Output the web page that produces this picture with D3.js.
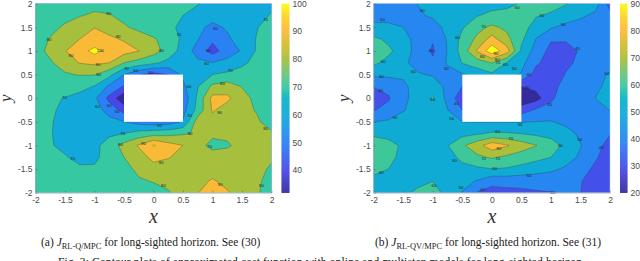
<!DOCTYPE html>
<html>
<head>
<meta charset="utf-8">
<script src="https://cdn.jsdelivr.net/npm/d3@7"></script>
<style>
  html, body { margin: 0; padding: 0; background: #fff; }
  svg { display: block; }
  .tick text, .cbar text { font-family: "Liberation Sans", sans-serif; font-size: 8.5px; fill: #4a4a4a; }
  .lab { font-family: "Liberation Sans", sans-serif; font-size: 4.4px; fill: #222; text-anchor: middle; dominant-baseline: central; }
  .math { font-family: "Liberation Serif", serif; font-style: italic; fill: #333; text-anchor: middle; }
  .cap { font-family: "Liberation Serif", serif; font-size: 11.5px; fill: #222; }
</style>
</head>
<body>
<div id="chart"></div>
<script>
// grid axes of both surfaces, top row is y = 2
var gridX = [-2, -1.75, -1.5, -1.25, -1, -0.75, -0.5, -0.25, 0, 0.25, 0.5, 0.75, 1, 1.25, 1.5, 1.75, 2];
var axisTicks = [-2, -1.5, -1, -0.5, 0, 0.5, 1, 1.5, 2];

// values
var valuesA = [
  74, 74, 75, 76, 77, 77, 76, 75, 74, 73, 71, 70.5, 68, 66, 66, 66, 68,
  75, 76, 78, 79.5, 81.5, 80.5, 78, 76, 74, 72, 70, 66, 63, 62, 63, 66, 71,
  76, 78, 81, 85, 89.8, 86, 81, 78, 75, 72, 68, 62, 58, 61, 65, 69.5, 74,
  76, 80.5, 86, 90, 93, 92, 89, 84, 81, 76, 68, 60.5, 52, 58.5, 64, 70.5, 74,
  77, 82, 89.5, 96, 103, 97, 94, 90.2, 84, 76, 66, 56, 46, 55, 61, 71, 74,
  76, 79, 84, 90.5, 92, 90, 80, 76, 72, 67, 65, 62, 60.3, 63, 68, 73, 75,
  74.5, 76, 79, 80.5, 80.5, 73, 60, 51, 46, 50, 62, 66, 70, 72, 74, 75, 76,
  74, 74.5, 75, 73, 69.5, 58, 49, 42, 40, 42, 58, 69.5, 82, 85, 79.5, 76, 75,
  73.5, 72, 69.5, 67, 62, 47, 32, 30, 30, 35, 53, 72, 93, 92, 84, 77, 74,
  73, 71, 68.5, 66.5, 64.5, 56, 46, 40, 38, 40, 56.5, 73.5, 91, 86, 82, 79.5, 75,
  72.5, 70.5, 68, 66.5, 65, 63, 60.3, 56, 54, 55, 61, 85, 87, 85, 83, 81, 77,
  72, 70.5, 67, 66, 67, 68, 70.2, 74, 76, 77, 79, 81, 82, 82.5, 83, 83, 81,
  72, 71, 67, 65, 67, 75, 83, 91, 101, 94, 90, 83.5, 77, 78.5, 84, 84, 82,
  73, 73, 71, 66.5, 67, 76, 80, 85, 93, 90.5, 87, 85, 85, 85, 84.5, 83, 81,
  74, 74, 73, 72, 72, 74, 77, 82, 86, 86, 85, 85, 86, 85, 84, 82, 79,
  74, 74, 74, 74, 74, 75, 77, 79, 80.5, 83, 85, 87, 91, 87, 84, 81.5, 77,
  74, 74, 74, 74, 74, 74, 75, 76, 77, 79, 84, 89.7, 94, 91, 86, 81, 76
];

// values
var valuesB = [
  44, 45, 46, 50.2, 52, 54, 55, 56, 57, 58.5, 60.5, 63, 62.5, 60.5, 57, 55, 36,
  46, 46, 47, 49, 51, 53, 55.5, 59.5, 62, 62, 62, 60.5, 59, 55.5, 52, 47.5, 43,
  53, 52.5, 50, 46, 47, 52, 59, 67, 72, 68, 63, 57, 51, 47, 45, 43, 41,
  62, 58, 53, 47, 41, 51, 63, 72, 84, 73, 62, 49.5, 41, 41, 41.5, 42, 42,
  68, 62, 55, 46, 38.5, 50.5, 64, 81, 96, 85, 58, 46, 37, 36.5, 41, 42, 42,
  62, 57, 52, 46, 42, 51, 60.5, 65, 70.3, 60, 53, 41.5, 36, 38, 42, 43, 44,
  52, 52, 51.5, 51, 49, 47, 49, 54, 58, 55, 49, 36, 34, 40.5, 44, 47, 51,
  40.5, 43, 48, 54, 56, 47, 40, 42, 42, 38, 30, 33, 37, 43, 46, 47, 54,
  33, 39, 47, 55, 61, 47, 33, 38, 40, 35, 22, 26, 38, 46, 47, 50, 54,
  39.5, 43, 49.5, 53, 54, 50.3, 39.8, 40, 42, 40, 35, 41.5, 44, 46, 47, 47.5, 50.2,
  49.8, 51.5, 53, 54, 54, 52, 50, 49.7, 49.7, 49.7, 49.5, 50.2, 50.5, 47.5, 46, 46, 45.5,
  58, 57, 56, 55, 55, 55, 57, 59, 61.5, 61, 60, 58, 57, 54, 48, 44, 40.5,
  66, 63, 58.5, 53, 52, 59.5, 68.5, 76, 86, 81, 75, 70.3, 64, 58, 50.5, 44, 36,
  66, 62, 58, 54, 52, 56, 62.5, 68, 71, 68, 65, 63, 60, 54, 48.5, 41, 36,
  63, 60, 56, 53, 51, 52, 57, 58, 59.8, 59, 57, 54, 52, 48.5, 43, 38.5, 35,
  57, 55, 54, 56, 59.8, 56, 53, 49.5, 43.5, 44, 43.5, 44, 43.5, 41.5, 40.5, 36, 32,
  52, 53, 57, 63, 64, 57, 49.5, 39.5, 36, 37, 38, 39, 39.7, 40.5, 40.2, 35, 30
];

var levelsA = [40, 50, 60, 70, 80, 90, 100];
var levelsB = [30, 40, 50, 60, 70, 80, 90];
var barTicksA = [40, 50, 60, 70, 80, 90, 100];
var barTicksB = [20, 30, 40, 50, 60, 70, 80, 90];

// contour labels as x, y, text
var labelsA = [
  [-0.76, 1.8, "80"], [-1.77, 1.25, "80"], [-0.6, 1.3, "90"], [-1.4, 0.9, "90"], [-0.94, 0.71, "90"],
  [-0.93, 0.5, "80"], [0.13, 1.02, "80"], [-0.9, 1, "100"], [0.43, 1.35, "70"], [1.05, 1.48, "60"],
  [0.93, 1, "50"], [0.9, 0.74, "60"], [1.3, 0.58, "70"], [1.9, 1.67, "70"], [-1.51, 0.02, "70"],
  [-0.95, -0.17, "60"], [-0.75, -0.16, "60"], [-0.62, -0.28, "50"], [-0.46, 0.62, "70"], [-0.3, 0.58, "60"],
  [-0.05, 0.55, "50"], [0.6, 0.24, "60"], [0.61, -0.37, "70"], [0.1, -0.57, "50"], [-0.52, -0.74, "70"],
  [0.62, -0.74, "80"], [-0.56, -0.97, "80"], [-0.17, -0.95, "90"], [0.13, -1.37, "90"], [1.13, -1.83, "90"],
  [1.12, -0.3, "90"], [1.17, 0.32, "80"], [1.9, -0.65, "80"], [0.95, -1.02, "70"], [-1.37, -1.27, "70"],
  [0.17, -1.85, "80"], [1.83, -1.85, "80"]
];
var labelsB = [
  [-1.18, 1.86, "50"], [-1.85, 1.66, "50"], [-1.87, 0.46, "50"], [-1.88, 0.16, "40"], [-1.84, 0.77, "60"],
  [-1.33, 0.56, "50"], [-1.64, -0.4, "50"], [-1.03, 1, "40"], [-1, -0.02, "60"], [-0.77, 0.63, "50"],
  [-0.58, 1.29, "60"], [-0.14, 1.51, "70"], [0.23, 0.71, "60"], [0.38, 0.62, "50"], [0.63, 0.5, "40"],
  [0.43, 1.91, "60"], [0.85, 1.75, "60"], [1.21, 1.55, "50"], [1.45, 1.05, "40"], [1.95, 0.53, "50"],
  [0.98, -0.13, "40"], [0.6, 0.22, "30"], [-0.6, -0.12, "40"], [-0.68, -0.42, "50"], [0.48, -0.56, "50"],
  [0.1, -0.7, "60"], [0.32, -0.85, "70"], [0.12, -1.07, "80"], [-0.14, -1.27, "70"], [0.1, -1.27, "70"],
  [-0.63, -1.32, "60"], [0.05, -1.49, "60"], [0.63, -1.64, "50"], [1.16, -1, "60"], [1.49, -0.88, "50"],
  [1.85, -1.05, "40"], [1.03, -1.99, "40"], [-0.16, -1.93, "40"], [-0.52, -1.9, "50"], [-0.98, -1.85, "60"],
  [-1.87, -1.58, "60"], [0.07, 0.95, "90"], [-0.16, 0.88, "80"], [0.09, 0.82, "80"], [0.1, 0.75, "70"]
];

// parula, sampled by eye from the colorbars
var parula = d3.scaleLinear()
  .domain([0, 0.12, 0.26, 0.41, 0.5, 0.56, 0.62, 0.71, 0.8, 0.86, 0.93, 1])
  .range(["#352a9c", "#4848e8", "#2b80f5", "#12a9da", "#08b4c4", "#36c8a0", "#62c682", "#a9bf3a", "#dcbc30", "#fdba38", "#fdd226", "#f9fb15"]);

var svg = d3.select("#chart").append("svg")
  .attr("width", 640)
  .attr("height", 261);

function drawPanel(id, left, right, barLeft, barRight, values, levels, lo, hi, barTicks, labels) {
  var top = 3.7, bottom = 192.7;
  var x = d3.scaleLinear().domain([-2, 2]).range([left, right]);
  var y = d3.scaleLinear().domain([-2, 2]).range([bottom, top]);
  var g = svg.append("g");

  g.append("clipPath").attr("id", id)
    .append("rect")
      .attr("x", left).attr("y", top)
      .attr("width", right - left).attr("height", bottom - top);

  // d3.contours puts sample i at coordinate i + 0.5
  var project = d3.geoTransform({
    point: function(cx, cy) {
      this.stream.point(x(gridX[0] + (cx - 0.5) * 0.25), y(2 - (cy - 0.5) * 0.25));
    }
  });
  var path = d3.geoPath(project);
  var bands = d3.contours().size([gridX.length, gridX.length]).thresholds(levels)(values);
  var fill = function(v) { return parula((v - lo) / (hi - lo)); };

  var plot = g.append("g").attr("clip-path", "url(#" + id + ")");
  plot.append("rect")
    .attr("x", left).attr("y", top)
    .attr("width", right - left).attr("height", bottom - top)
    .attr("fill", fill(lo));
  plot.selectAll("path")
    .data(bands)
    .enter()
    .append("path")
      .attr("d", path)
      .attr("fill", function(d) { return fill(d.value); })
      .attr("stroke", "#2b2b2b")
      .attr("stroke-opacity", 0.7)
      .attr("stroke-width", 0.4);

  // the obstacle
  g.append("rect")
    .attr("x", x(-0.5)).attr("y", y(0.5))
    .attr("width", x(0.5) - x(-0.5)).attr("height", y(-0.5) - y(0.5))
    .attr("fill", "#fff");

  g.selectAll(".lab")
    .data(labels)
    .enter()
    .append("text")
      .attr("class", "lab")
      .attr("x", function(d) { return x(d[0]); })
      .attr("y", function(d) { return y(d[1]); })
      .text(function(d) { return d[2]; });

  // axes
  var xAxis = g.append("g")
    .attr("transform", "translate(0," + bottom + ")")
    .call(d3.axisBottom(x).tickValues(axisTicks).tickFormat(String).tickSizeInner(-2).tickSizeOuter(0).tickPadding(4.5));
  var yAxis = g.append("g")
    .attr("transform", "translate(" + left + ",0)")
    .call(d3.axisLeft(y).tickValues(axisTicks).tickFormat(String).tickSizeInner(-2).tickSizeOuter(0).tickPadding(3));
  [xAxis, yAxis].forEach(function(a) {
    a.selectAll(".domain").attr("stroke", "#8a8a8a").attr("stroke-width", 0.5);
    a.selectAll(".tick line").attr("stroke", "#555").attr("stroke-width", 0.5);
  });
  g.append("rect")
    .attr("x", left).attr("y", top)
    .attr("width", right - left).attr("height", bottom - top)
    .attr("fill", "none")
    .attr("stroke", "#a8cbe0")
    .attr("stroke-width", 0.5);

  g.append("text").attr("class", "math")
    .attr("font-size", "20px")
    .attr("x", (left + right) / 2).attr("y", 223).text("x");
  g.append("text").attr("class", "math")
    .attr("font-size", "17px")
    .attr("transform", "translate(" + (left - 25) + "," + ((top + bottom) / 2) + ")rotate(-90)")
    .text("y");

  // colorbar
  var barY = d3.scaleLinear().domain([lo, hi]).range([bottom, top]);
  var bar = g.append("g").attr("class", "cbar");
  bar.selectAll("rect")
    .data(d3.range(0, 189))
    .enter()
    .append("rect")
      .attr("x", barLeft)
      .attr("width", barRight - barLeft)
      .attr("y", function(d) { return top + d; })
      .attr("height", 1.2)
      .attr("fill", function(d) { return parula(1 - (d + 0.5) / 189); });
  bar.selectAll("text")
    .data(barTicks)
    .enter()
    .append("text")
      .attr("x", barRight + 3)
      .attr("y", function(d) { return barY(d) + 3; })
      .text(String);
}

drawPanel("clipA", 35.5, 271.5, 281.5, 289.5, valuesA, levelsA, 32, 100, barTicksA, labelsA);
drawPanel("clipB", 373.7, 610, 620, 627.5, valuesB, levelsB, 20, 90, barTicksB, labelsB);

// captions
function caption(px, tag, sub, tail) {
  var t = svg.append("text").attr("class", "cap").attr("x", px).attr("y", 246);
  t.append("tspan").text(tag + " ");
  t.append("tspan").attr("font-style", "italic").text("J");
  t.append("tspan").attr("font-size", "8.4px").attr("dy", 2.5).text(sub);
  t.append("tspan").attr("dy", -2.5).text(" " + tail);
}
caption(41, "(a)", "RL-Q/MPC", "for long-sighted horizon. See (30)");
caption(375, "(b)", "RL-QV/MPC", "for long-sighted horizon. See (31)");

// figure caption, cut off by the bottom of the page
svg.append("text")
  .attr("class", "cap")
  .attr("x", 58)
  .attr("y", 266)
  .attr("textLength", 527)
  .text("Fig. 3: Contour plots of approximated cost function with online and multistep models for long-sighted horizon.");
</script>
</body>
</html>
